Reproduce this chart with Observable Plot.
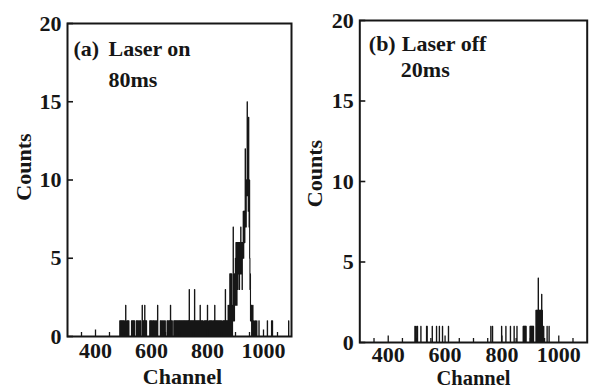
<!DOCTYPE html>
<html><head><meta charset="utf-8">
<script src="https://cdn.jsdelivr.net/npm/d3@7"></script>
<script src="https://cdn.jsdelivr.net/npm/@observablehq/plot@0.6"></script>
<style>
body{margin:0;background:#fff;}
#wrap{position:relative;width:594px;height:389px;overflow:hidden;background:#fff;}
#wrap svg{position:absolute;top:0;}
</style></head><body><div id="wrap"></div>
<script>
// Panel (a): Laser on, 80ms — nonzero channels and their counts
const channelsA = [
 487,489,491,493,495,497,499,501,503,508,
 513,515,517,519,529,531,533,535,537,539,
 546,548,550,553,556,559,561,567,570,572,574,576,578,580,582,
 594,596,598,600,603,606,608,611,614,617,620,622,
 632,634,637,640,643,646,649,656,658,660,663,665,668,670,672,674,
 680,682,684,686,688,690,692,694,696,698,700,702,704,706,708,710,712,714,716,718,720,722,724,726,728,730,732,
 735,737,739,741,743,745,747,749,751,754,756,758,760,762,764,766,768,770,772,774,776,778,780,782,784,
 789,791,793,795,797,800,802,807,809,811,813,815,817,821,823,826,828,830,832,834,836,838,840,842,844,846,848,850,
 855,857,859,861,864,866,868,870,872,874,876,878,880,882,884,886,888,890,
 891,892,893,894,895,896,897,898,899,900,901,902,903,904,905,906,907,908,909,910,
 911,912,913,914,915,916,917,918,919,920,921,922,923,924,925,926,927,928,929,930,
 931,932,933,934,935,936,937,938,939,940,941,942,943,944,945,946,947,948,949,950,
 951,952,953,954,955,956,957,
 962,966,971,976,984,1014,1029,1032,1090
];
const countsA = [
 1,1,1,1,1,1,1,1,1,2,
 1,1,1,1,1,1,1,1,1,1,
 1,1,1,1,1,1,1,2,1,1,1,2,1,1,1,
 1,1,1,1,1,1,1,1,1,1,1,2,
 1,1,1,1,1,1,1,1,1,1,1,1,2,1,1,1,
 1,1,1,1,1,1,1,1,1,1,1,1,1,1,1,1,1,1,1,1,1,1,1,1,1,1,1,
 3,1,1,1,1,1,1,1,1,3,1,1,1,1,1,1,1,1,1,2,1,1,1,1,1,
 1,1,1,1,1,2,1,1,1,1,1,1,1,1,1,2,1,1,1,1,1,1,1,1,1,1,1,1,
 1,1,1,1,3,1,1,1,1,2,1,2,4,4,3,4,2,1,
 1,7,1,2,3,1,4,2,3,5,2,6,3,6,2,5,6,3,6,4,
 6,5,6,3,6,4,6,5,7,4,6,5,6,3,6,5,6,8,5,8,
 6,8,6,7,12,8,10,7,10,9,10,15,10,9,10,8,14,10,7,10,
 5,3,4,1,2,1,2,
 2,1,1,1,1,1,1,1,1
];
// Panel (b): Laser off, 20ms
const channelsB = [
 494,498,503,515,535,537,555,570,580,591,612,
 761,767,799,814,830,843,853,
 875,877,879,881,883,885,
 899,901,903,905,907,909,911,
 920,922,924,926,928,930,932,934,936,938,940,942,
 947,959,966
];
const countsB = [
 1,1,1,1,1,1,1,1,1,1,1,
 1,1,1,1,1,1,1,
 1,1,1,1,1,1,
 1,1,1,1,1,1,1,
 2,2,2,2,4,2,2,2,2,2,3,2,
 1,1,1
];
const xDomain = [300, 1100];
const yDomain = [0, 20];
const xTickLabels = [400, 600, 800, 1000];
const xMinorTicks = [350,450,500,550,650,700,750,850,900,950,1050];
const yTicks = [0, 5, 10, 15, 20];

function stepPoints(ch, n) {
  const pts = [{ch: xDomain[0], n: 0}];
  for (let i = 0; i < ch.length; i++) {
    const c = ch[i];
    const prev = i > 0 ? ch[i - 1] : -Infinity;
    const next = i < ch.length - 1 ? ch[i + 1] : Infinity;
    if (c - 1 > prev + 1) pts.push({ch: c - 1, n: 0});
    pts.push({ch: c, n: n[i]});
    if (next > c + 1) pts.push({ch: c + 1, n: 0});
  }
  pts.push({ch: xDomain[1], n: 0});
  return pts;
}

const FONT = "'Liberation Serif','Times New Roman',Times,serif";
const INK = "#161616";

function panel(o) {
  const innerW = o.width - o.mL - o.mR, innerH = o.height - o.mT - o.mB;
  const xpp = (xDomain[1] - xDomain[0]) / innerW;
  const ypp = (yDomain[1] - yDomain[0]) / innerH;
  const pts = stepPoints(o.channels, o.counts);
  const svg = Plot.plot({
    width: o.width, height: o.height,
    marginLeft: o.mL, marginRight: o.mR, marginTop: o.mT, marginBottom: o.mB,
    x: {domain: xDomain},
    y: {domain: yDomain},
    style: {fontFamily: FONT, fontWeight: "bold", fontSize: "22px", color: INK, background: "transparent", overflow: "visible"},
    marks: [
      Plot.line(pts, {x: "ch", y: "n", curve: "step", stroke: INK, strokeWidth: 1.1}),
      Plot.ruleX(xMinorTicks, {x: d => d, y1: yDomain[0], y2: yDomain[0] + 4 * ypp, stroke: INK, strokeWidth: 1.3}),
      Plot.ruleX(xTickLabels, {x: d => d, y1: yDomain[0], y2: yDomain[0] + 6.5 * ypp, stroke: INK, strokeWidth: 1.3}),
      Plot.ruleY(yTicks, {y: d => d, x1: xDomain[0], x2: xDomain[0] + 6 * xpp, stroke: INK, strokeWidth: 1.6}),
      Plot.frame({stroke: INK, strokeWidth: 2}),
      Plot.axisX(xTickLabels, {tickSize: 0, tickPadding: o.padX, label: null, tickFormat: d => String(d), fontSize: 22, fill: INK}),
      Plot.axisY(yTicks, {tickSize: 0, tickPadding: o.padY, label: null, tickFormat: d => String(d), fontSize: 22, fill: INK}),
      Plot.text(["Channel"], {frameAnchor: "bottom", textAnchor: "middle", lineAnchor: "middle", dx: o.chDx, dy: o.chDy, fontSize: o.chSize, fill: INK}),
      Plot.text(["Counts"], {frameAnchor: "left", textAnchor: "middle", lineAnchor: "middle", rotate: -90, dx: o.coDx, dy: o.coDy, fontSize: 22, fill: INK}),
      Plot.text([o.tag], {frameAnchor: "top-left", textAnchor: "start", lineAnchor: "middle", dx: o.tagDx, dy: o.t1Dy, fontSize: 22, fill: INK}),
      Plot.text([o.title], {frameAnchor: "top-left", textAnchor: "start", lineAnchor: "middle", dx: o.titleDx, dy: o.t1Dy, fontSize: 22, fill: INK}),
      Plot.text([o.dur], {frameAnchor: "top-left", textAnchor: "start", lineAnchor: "middle", dx: o.durDx, dy: o.t2Dy, fontSize: 22, fill: INK})
    ]
  });
  svg.style.left = o.left + "px";
  return svg;
}

const wrap = document.getElementById("wrap");
wrap.appendChild(panel({
  channels: channelsA, counts: countsA, left: 0,
  width: 300, height: 389, mL: 67, mR: 9, mT: 23, mB: 53,
  padX: 6, padY: 6, chDx: 3, chDy: 40, chSize: 22, coDx: -44, coDy: -13,
  tag: "(a)", title: "Laser on", dur: "80ms", tagDx: 6, titleDx: 41, durDx: 41, t1Dy: 25, t2Dy: 56
}));
wrap.appendChild(panel({
  channels: channelsB, counts: countsB, left: 300,
  width: 294, height: 389, mL: 59.3, mR: 7.3, mT: 20, mB: 47,
  padX: 4, padY: 6, chDx: 0, chDy: 36, chSize: 20.5, coDx: -45, coDy: -8,
  tag: "(b)", title: "Laser off", dur: "20ms", tagDx: 9, titleDx: 42, durDx: 41, t1Dy: 23, t2Dy: 49
}));
</script></body></html>
